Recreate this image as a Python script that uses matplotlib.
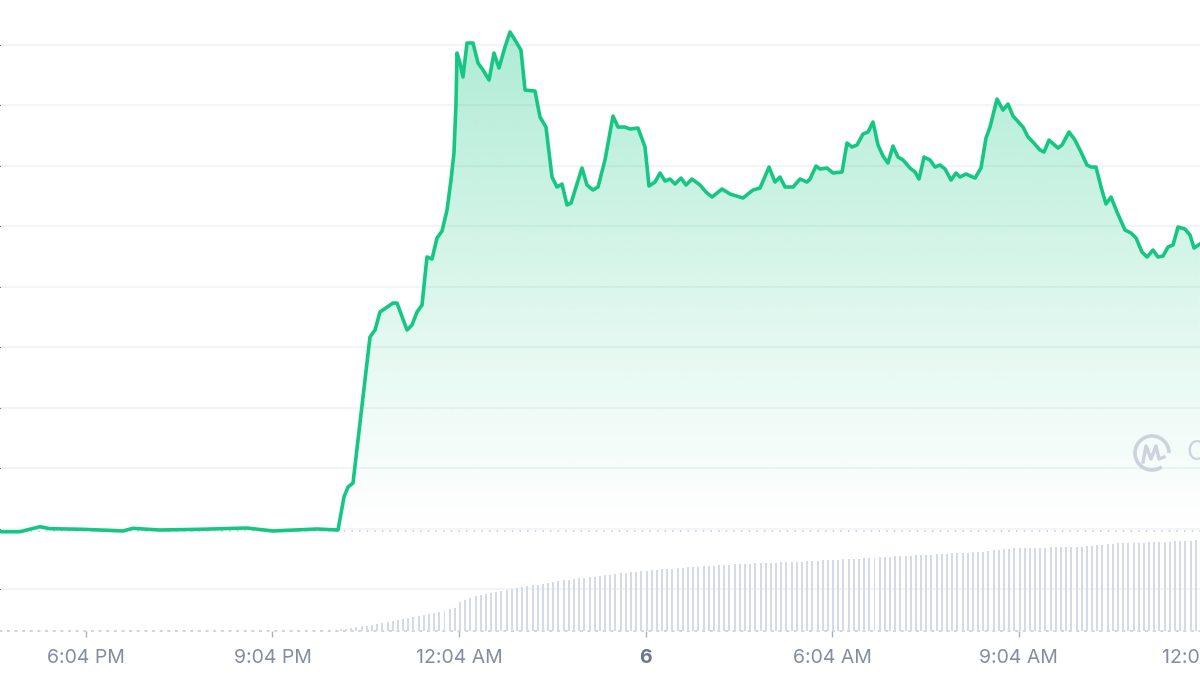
import numpy as np
import matplotlib
matplotlib.use('Agg')
from matplotlib import pyplot as plt
from matplotlib.patches import Arc

# time in hours after noon of day 5, price in chart units (gridline step = 1)
hours = [4.684, 5.006, 5.327, 5.488, 6.019, 6.662, 6.823, 7.258, 7.901, 8.657, 9.075, 9.783, 10.121,
         10.217, 10.282, 10.362, 10.635, 10.716, 10.796, 11.005, 11.070, 11.231, 11.311, 11.392, 11.472,
         11.552, 11.633, 11.713, 11.794, 11.874, 11.938, 11.986, 12.019, 12.035, 12.083, 12.131, 12.196,
         12.292, 12.373, 12.453, 12.550, 12.630, 12.710, 12.807, 12.887, 12.968, 13.064, 13.129, 13.289,
         13.370, 13.466, 13.563, 13.643, 13.724, 13.804, 13.869, 14.045, 14.126, 14.222, 14.303, 14.415,
         14.544, 14.625, 14.737, 14.818, 14.946, 15.059, 15.123, 15.220, 15.300, 15.381, 15.461, 15.541,
         15.638, 15.718, 15.815, 15.944, 16.040, 16.137, 16.297, 16.426, 16.635, 16.796, 16.909, 17.054,
         17.150, 17.230, 17.311, 17.440, 17.552, 17.665, 17.713, 17.809, 17.874, 17.986, 18.083, 18.228,
         18.308, 18.388, 18.469, 18.565, 18.646, 18.726, 18.807, 18.887, 18.967, 19.048, 19.128, 19.209,
         19.321, 19.402, 19.466, 19.547, 19.643, 19.724, 19.804, 19.885, 19.981, 20.061, 20.126, 20.222,
         20.367, 20.463, 20.544, 20.608, 20.721, 20.817, 20.898, 20.978, 21.139, 21.220, 21.300, 21.413,
         21.477, 21.557, 21.702, 21.766, 21.879, 21.975, 22.072, 22.168, 22.233, 22.313, 22.394, 22.474,
         22.555, 22.651, 22.780, 22.876, 22.957, 23.053, 23.134, 23.230, 23.310, 23.391, 23.471, 23.552,
         23.632, 23.745, 23.825, 23.890, 23.985]
price = [0.947, 0.947, 1.030, 0.997, 0.987, 0.959, 1.003, 0.975, 0.987, 1.008, 0.959, 0.992, 0.975,
         1.521, 1.686, 1.752, 4.165, 4.281, 4.579, 4.727, 4.727, 4.281, 4.364, 4.579, 4.694,
         5.488, 5.455, 5.802, 5.917, 6.264, 6.760, 7.207, 8.033, 8.860, 8.694, 8.463, 9.025,
         9.025, 8.694, 8.579, 8.413, 8.860, 8.612, 8.959, 9.207, 9.074, 8.909, 8.248, 8.231,
         7.802, 7.636, 6.810, 6.645, 6.694, 6.347, 6.380, 6.959, 6.678, 6.595, 6.645, 7.091,
         7.818, 7.636, 7.636, 7.603, 7.620, 7.306, 6.661, 6.727, 6.876, 6.744, 6.777, 6.694,
         6.793, 6.678, 6.777, 6.678, 6.562, 6.479, 6.612, 6.529, 6.463, 6.595, 6.628, 6.975,
         6.727, 6.810, 6.645, 6.645, 6.777, 6.727, 6.777, 6.992, 6.942, 6.959, 6.876, 6.893,
         7.372, 7.306, 7.339, 7.521, 7.554, 7.719, 7.339, 7.157, 7.041, 7.322, 7.140, 7.091,
         6.959, 6.893, 6.777, 7.140, 7.091, 6.975, 7.008, 6.942, 6.760, 6.876, 6.810, 6.860,
         6.793, 6.959, 7.455, 7.636, 8.099, 7.917, 8.017, 7.818, 7.636, 7.471, 7.388, 7.256,
         7.223, 7.421, 7.289, 7.339, 7.554, 7.421, 7.223, 7.008, 6.975, 6.975, 6.645, 6.364,
         6.479, 6.231, 5.934, 5.884, 5.802, 5.570, 5.488, 5.603, 5.488, 5.504, 5.653, 5.686,
         5.983, 5.950, 5.851, 5.636, 5.702]
open_price = 0.96

# 5 minute volume bars, first one at 10:10 PM (one row per hour)
vol_start = 10.167
volume = [0.2, 0.2, 0.3, 0.4, 0.5, 0.5, 0.6, 0.7, 0.8, 0.9, 1.0, 1.1,
          1.2, 1.3, 1.4, 1.5, 1.6, 1.7, 1.8, 1.9, 2.0, 2.2, 2.3, 2.9,
          3.1, 3.3, 3.5, 3.6, 3.7, 3.8, 3.9, 4.0, 4.1, 4.2, 4.3, 4.4,
          4.5, 4.6, 4.6, 4.7, 4.8, 4.9, 5.0, 5.1, 5.1, 5.2, 5.3, 5.3,
          5.4, 5.4, 5.5, 5.6, 5.6, 5.7, 5.8, 5.8, 5.9, 5.9, 6.0, 6.0,
          6.1, 6.1, 6.2, 6.2, 6.2, 6.3, 6.3, 6.4, 6.4, 6.4, 6.5, 6.5,
          6.5, 6.6, 6.6, 6.6, 6.7, 6.7, 6.7, 6.7, 6.8, 6.8, 6.8, 6.8,
          6.8, 6.9, 6.9, 6.9, 6.9, 6.9, 7.0, 7.0, 7.0, 7.1, 7.1, 7.1,
          7.1, 7.2, 7.2, 7.2, 7.2, 7.3, 7.3, 7.3, 7.4, 7.4, 7.4, 7.5,
          7.5, 7.5, 7.5, 7.6, 7.6, 7.6, 7.6, 7.7, 7.7, 7.7, 7.8, 7.8,
          7.8, 7.8, 7.9, 7.9, 7.9, 8.0, 8.1, 8.1, 8.2, 8.2, 8.3, 8.3,
          8.3, 8.3, 8.3, 8.3, 8.3, 8.4, 8.4, 8.4, 8.4, 8.4, 8.4, 8.4,
          8.5, 8.5, 8.6, 8.6, 8.7, 8.7, 8.8, 8.8, 8.8, 8.8, 8.8, 8.8,
          8.9, 8.9, 8.9, 8.9, 8.9, 9.0, 9.0, 9.0, 9.0, 9.1, 9.1]

tick_pos = [6.067, 9.067, 12.067, 15.067, 18.067, 21.067, 24.067]
tick_labels = ['6:04 PM', '9:04 PM', '12:04 AM', '6', '6:04 AM', '9:04 AM', '12:04 PM']

GREEN = '#16c784'
DOTS = '#c3c9d6'


def draw_price(ax):
    ax.plot(hours, price, color=GREEN, lw=2.6, zorder=4, solid_joinstyle='round')
    # gradient under the line, clipped to the area between line and open price
    fb = ax.fill_between(hours, price, open_price, color='none', lw=0)
    top = max(price)
    grad = np.zeros((256, 1, 4))
    grad[:, 0, 0] = 22 / 255
    grad[:, 0, 1] = 199 / 255
    grad[:, 0, 2] = 132 / 255
    grad[:, 0, 3] = np.linspace(0.0, 0.38, 256) ** 1.1
    im = ax.imshow(grad, extent=[hours[0], hours[-1], open_price, top], origin='lower',
                   aspect='auto', zorder=2, interpolation='bilinear')
    im.set_clip_path(fb.get_paths()[0], transform=ax.transData)
    ax.axhline(open_price, color=DOTS, lw=1.1, ls=(0, (1, 4)), zorder=3)


def draw_volume(ax):
    ax2 = ax.twinx()
    xs = vol_start + np.arange(len(volume)) / 12.0
    ax2.bar(xs, volume, width=0.032, color='#d5d9e8', lw=0)
    ax2.set_ylim(0, 63.1)
    ax2.set_yticks([])
    for s in ax2.spines.values():
        s.set_visible(False)


def draw_logo(fig):
    ov = fig.add_axes([0, 0, 1, 1])
    ov.set_xlim(0, 1200)
    ov.set_ylim(675, 0)
    ov.axis('off')
    ov.add_patch(Arc((1152, 453), 34, 34, theta1=55, theta2=360, color='#cdd2dc', lw=2.6))
    ov.plot([1143, 1146, 1151, 1156, 1159, 1164], [462, 446, 459, 446, 459, 457],
            color='#cdd2dc', lw=2.4, solid_joinstyle='round')
    ov.text(1186, 453, 'CoinMarketCap', color='#cdd2dc', fontsize=19, va='center', ha='left')


def main():
    plt.rcParams['font.family'] = ['Inter', 'DejaVu Sans']
    fig = plt.figure(figsize=(12, 6.75), dpi=100)
    ax = fig.add_axes([0, 44 / 675, 1.05, 631 / 675])
    ax.set_xlim(4.684, 4.684 + 1260 / 62.17)
    ax.set_ylim(-0.694, 9.736)

    ax.set_yticks(range(0, 10))
    ax.tick_params(axis='y', left=False, labelleft=False)
    ax.grid(axis='y', color='#eff1f4', lw=1.1, zorder=0)
    ax.set_axisbelow(True)

    for side in ['top', 'left', 'right']:
        ax.spines[side].set_visible(False)
    ax.spines['bottom'].set_color(DOTS)
    ax.spines['bottom'].set_linestyle((0, (1, 4)))
    ax.spines['bottom'].set_linewidth(1.1)

    ax.set_xticks(tick_pos, tick_labels)
    ax.tick_params(axis='x', length=4, width=1, color='#a6b0c3', labelcolor='#858ca2',
                   labelsize=14, pad=9)
    day = ax.get_xticklabels()[3]
    day.set_fontweight('bold')
    day.set_color('#6b7689')

    draw_volume(ax)
    draw_price(ax)
    draw_logo(fig)

    fig.savefig('out.png', dpi=100)


if __name__ == '__main__':
    main()
